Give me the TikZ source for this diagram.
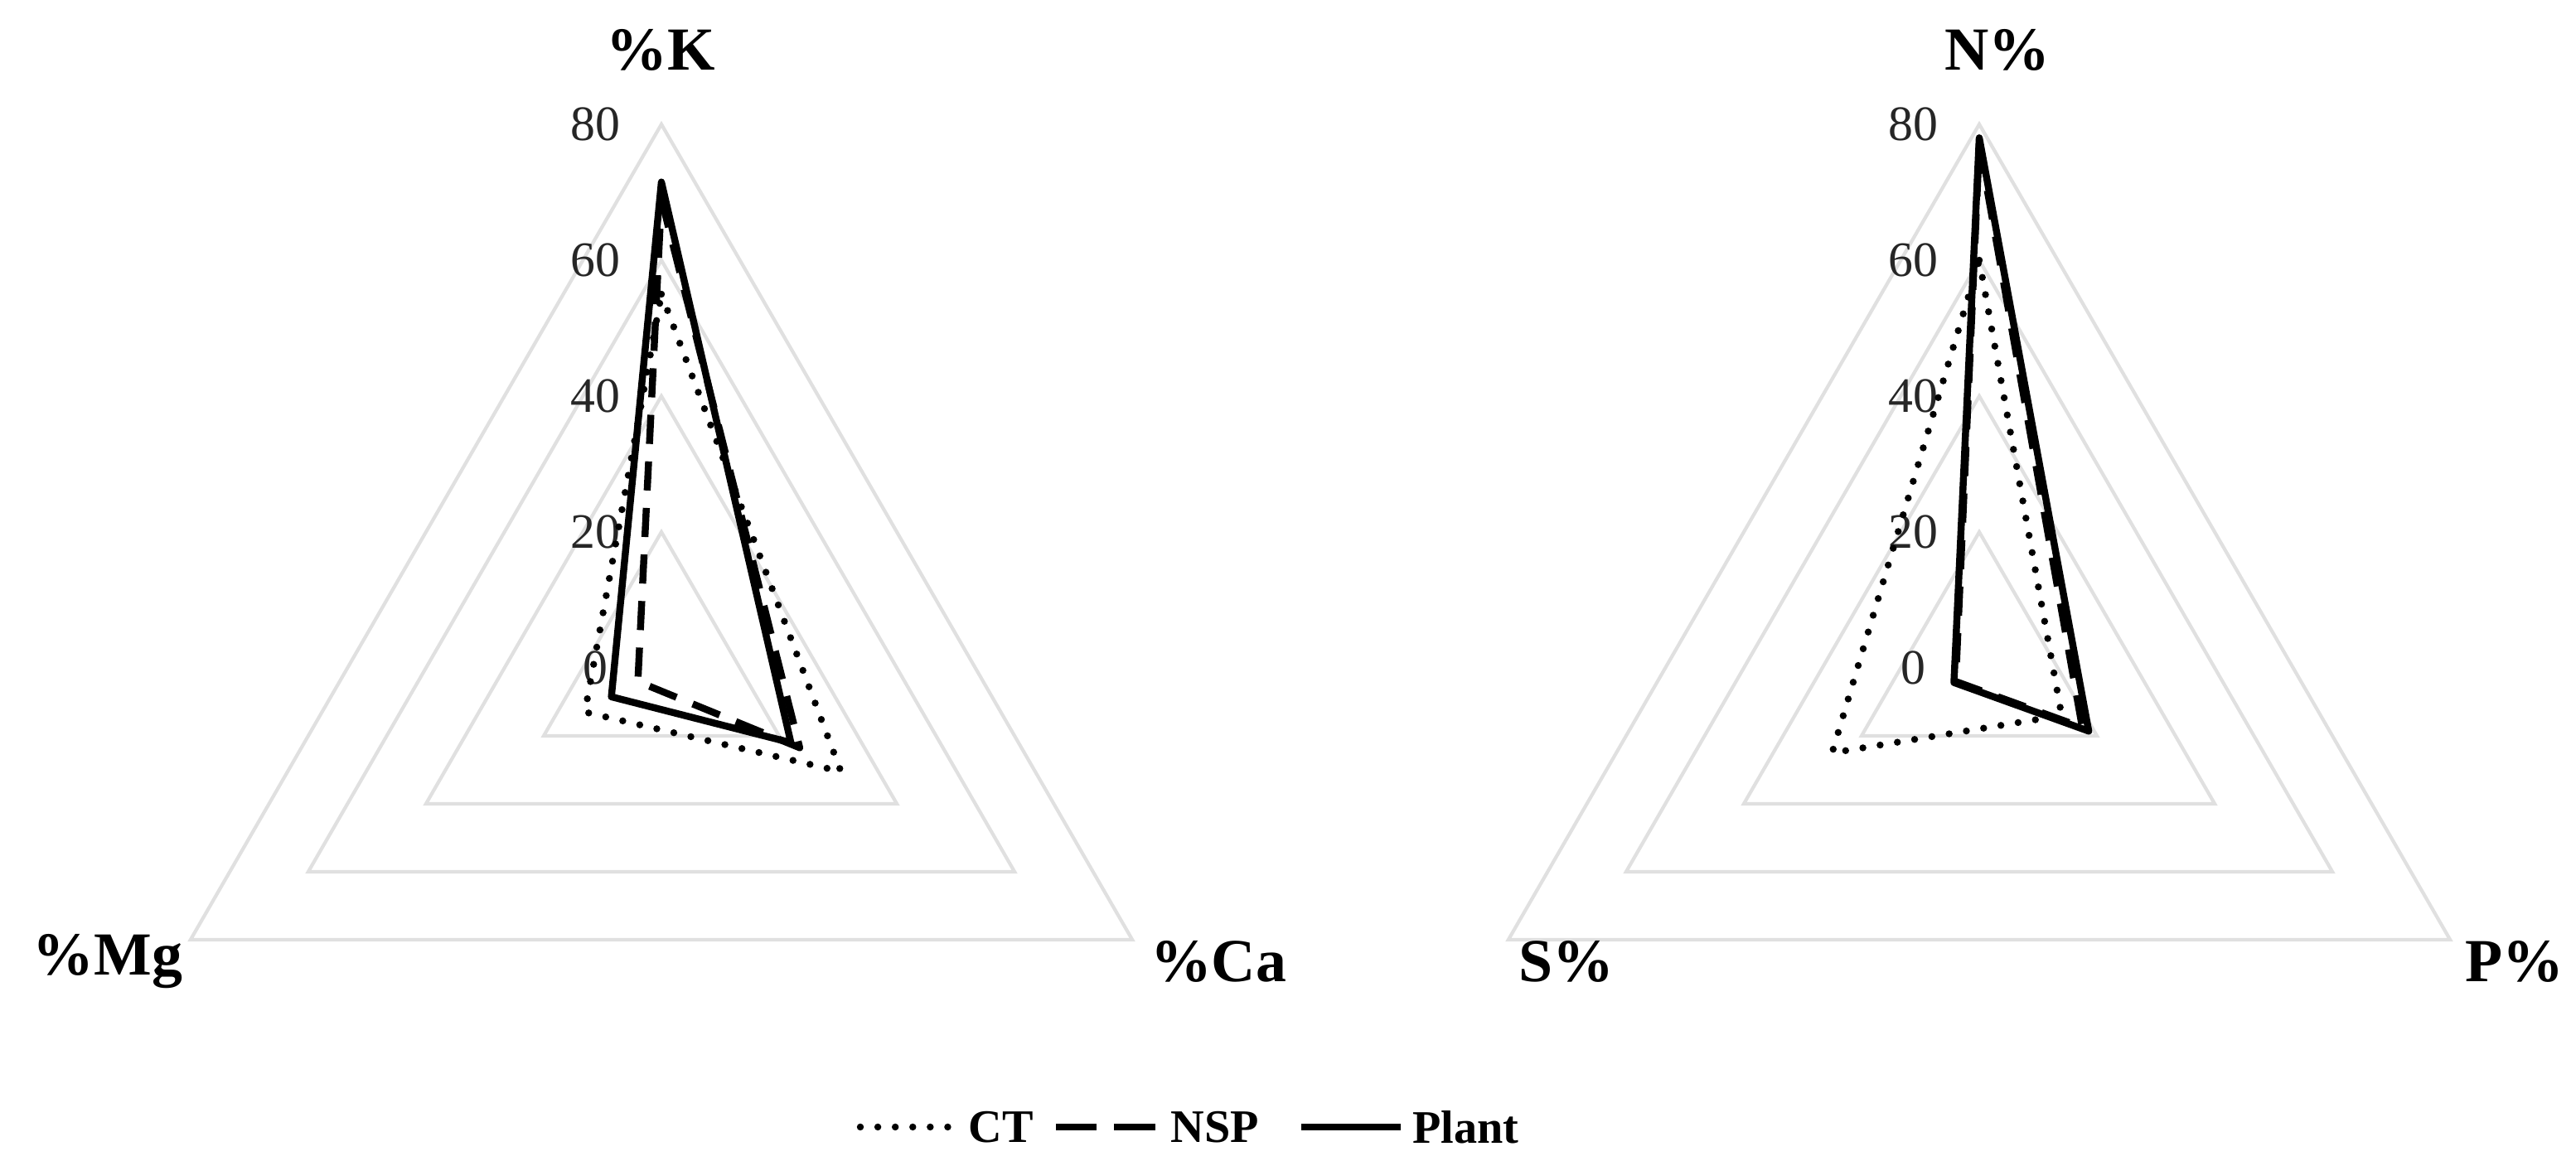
\documentclass[tikz,border=0pt]{standalone}
\usepackage{fontspec}
\setmainfont{Liberation Serif}
\begin{document}
\begin{tikzpicture}[
  grid/.style={draw=black!12, line width=1.2pt},
  ct/.style={line width=2.4pt, dash pattern=on 0pt off 6pt, line cap=round, line join=round},
  nsp/.style={line width=2.4pt, dash pattern=on 10pt off 6pt, line join=round},
  plant/.style={line width=2.4pt, line join=round},
  axlab/.style={font=\fontsize{21}{24}\selectfont\bfseries},
  leglab/.style={font=\fontsize{16}{19}\selectfont\bfseries},
  ticklab/.style={font=\fontsize{17}{20}\selectfont, text=black!85},
]
\useasboundingbox (0,0) rectangle (31.08,14.01);
\begin{scope}[shift={(7.98,5.95)}]
  \foreach \v in {20,40,60,80}{
    \draw[grid] (90:\v*0.082) -- (-30:\v*0.082) -- (210:\v*0.082) -- cycle;
  }
  \foreach \v in {0,20,40,60,80}{
    \node[ticklab] (lt\v) at (-0.8,\v*0.082) {\v};
  }
  \coordinate (lk1) at (90:55*0.082); \coordinate (lc1) at (-30:30.5*0.082); \coordinate (lm1) at (210:13*0.082);
  \coordinate (lk2) at (90:69*0.082); \coordinate (lc2) at (-30:23.5*0.082); \coordinate (lm2) at (210:4*0.082);
  \coordinate (lk3) at (90:71.5*0.082); \coordinate (lc3) at (-30:22*0.082); \coordinate (lm3) at (210:8.5*0.082);
  \draw[ct] (lk1) -- (lc1) -- (lm1) -- cycle;
  \draw[nsp] (lk2) -- (lc2) -- (lm2) -- cycle;
  \draw[plant] (lk3) -- (lc3) -- (lm3) -- cycle;
\end{scope}
\node[axlab] (K) at (7.97,13.41) {\%K};
\node[axlab] (Ca) at (14.7,2.41) {\%Ca};
\node[axlab] (Mg) at (1.3,2.41) {\%Mg};
\begin{scope}[shift={(23.88,5.95)}]
  \foreach \v in {20,40,60,80}{
    \draw[grid] (90:\v*0.082) -- (-30:\v*0.082) -- (210:\v*0.082) -- cycle;
  }
  \foreach \v in {0,20,40,60,80}{
    \node[ticklab] (rt\v) at (-0.8,\v*0.082) {\v};
  }
  \coordinate (rn1) at (90:60*0.082); \coordinate (rp1) at (-30:14*0.082); \coordinate (rs1) at (210:25*0.082);
  \coordinate (rn2) at (90:77*0.082); \coordinate (rp2) at (-30:17.5*0.082); \coordinate (rs2) at (210:4*0.082);
  \coordinate (rn3) at (90:78*0.082); \coordinate (rp3) at (-30:18.6*0.082); \coordinate (rs3) at (210:4.3*0.082);
  \draw[ct] (rn1) -- (rp1) -- (rs1) -- cycle;
  \draw[nsp] (rn2) -- (rp2) -- (rs2) -- cycle;
  \draw[plant] (rn3) -- (rp3) -- (rs3) -- cycle;
\end{scope}
\node[axlab] (N) at (24.1,13.41) {N\%};
\node[axlab, anchor=east] (P) at (31.06,2.41) {P\%};
\node[axlab] (S) at (18.9,2.41) {S\%};
\coordinate (l1a) at (10.38,0.41); \coordinate (l1b) at (11.56,0.41);
\coordinate (l2a) at (12.74,0.41); \coordinate (l2b) at (13.98,0.41);
\coordinate (l3a) at (15.7,0.41); \coordinate (l3b) at (16.9,0.41);
\draw[ct] (l1a) -- (l1b);
\draw[nsp, dash pattern=on 14pt off 6pt] (l2a) -- (l2b);
\draw[plant] (l3a) -- (l3b);
\node[leglab, anchor=west] (lct) at (11.56,0.41) {CT};
\node[leglab, anchor=west] (lnsp) at (14.0,0.41) {NSP};
\node[leglab, anchor=west] (lpl) at (16.92,0.41) {Plant};
\end{tikzpicture}
\end{document}
